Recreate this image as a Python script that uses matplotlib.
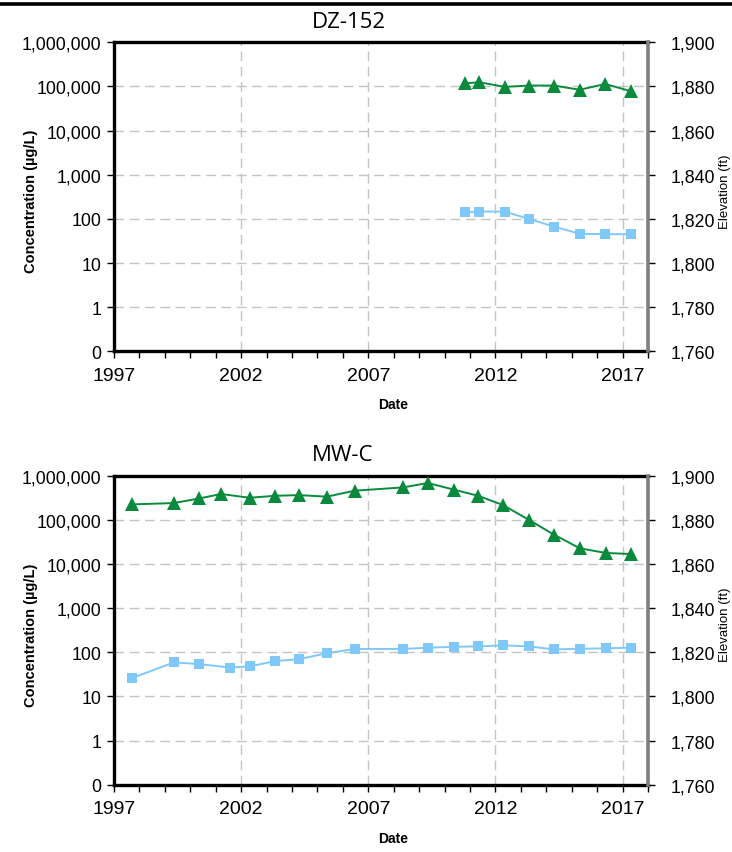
import numpy as np
import matplotlib
matplotlib.use("Agg")
import matplotlib.pyplot as plt
from matplotlib.ticker import FixedLocator, MultipleLocator, FuncFormatter
from matplotlib.lines import Line2D

# DZ-152
dz_years = [2010.79, 2011.36, 2012.37, 2013.33, 2014.30, 2015.31, 2016.32, 2017.34]
dz_elev = [1881.4, 1881.9, 1879.8, 1880.4, 1880.4, 1878.5, 1881.1, 1877.8]
dz_conc = [141, 146, 146, 99, 67, 46, 45, 45]

# MW-C
mw_elev_years = [1997.70, 1999.36, 2000.35, 2001.21, 2002.34, 2003.33, 2004.28,
                 2005.37, 2006.46, 2008.37, 2009.34, 2010.36, 2011.32, 2012.30,
                 2013.33, 2014.30, 2015.32, 2016.34, 2017.34]
mw_elev = [1887.0, 1887.6, 1889.7, 1891.7, 1890.0, 1890.9, 1891.2, 1890.5, 1893.2,
           1894.7, 1896.7, 1893.7, 1890.9, 1886.7, 1879.9, 1873.3, 1867.1, 1865.0,
           1864.5]
mw_conc_years = [1997.70, 1999.36, 2000.35, 2001.57, 2002.34, 2003.33, 2004.28,
                 2005.37, 2006.46, 2008.37, 2009.34, 2010.36, 2011.32, 2012.30,
                 2013.33, 2014.30, 2015.32, 2016.34, 2017.34]
mw_conc = [26, 59, 54, 45, 48, 63, 70, 95, 119,
           119, 127, 133, 136, 143, 136, 116, 120, 123, 127]

conc_ticks = [0.1, 1, 10, 100, 1000, 10000, 100000, 1000000]
conc_labels = ["0", "1", "10", "100", "1,000", "10,000", "100,000", "1,000,000"]
year_ticks = [1997, 2002, 2007, 2012, 2017]

GREEN = "#0a8a3c"
BLUE = "#80c8fa"
GRID = "#c4c4c4"

W, H = 732, 853
fig = plt.figure(figsize=(W / 100, H / 100), dpi=100)

# rule across the top
fig.add_artist(Line2D([0, 1], [1 - 4.5 / H, 1 - 4.5 / H], color="black", lw=2.6,
                      transform=fig.transFigure))


def px(x, y):
    return x / W, 1 - y / H


def make_panel(top_px, bottom_px, title, conc_x, conc_y, elev_x, elev_y):
    left, right = 114, 648
    ax = fig.add_axes([left / W, 1 - bottom_px / H, (right - left) / W,
                       (bottom_px - top_px) / H])
    ax.set_yscale("log")
    ax.set_ylim(0.1, 1000000)
    ax.set_xlim(1997, 2018)
    ax.yaxis.set_major_locator(FixedLocator(conc_ticks))
    ax.set_yticklabels(conc_labels, fontfamily="Liberation Sans", fontsize=12.8)
    ax.yaxis.set_minor_locator(FixedLocator([]))
    ax.xaxis.set_major_locator(FixedLocator(year_ticks))
    ax.xaxis.set_minor_locator(MultipleLocator(1))
    ax.set_xticklabels([str(y) for y in year_ticks], fontfamily="Liberation Sans",
                       fontsize=14)
    ax.tick_params(axis="x", which="major", length=5, width=1, pad=6)
    ax.tick_params(axis="x", which="minor", length=5, width=1)
    ax.tick_params(axis="y", which="major", length=5, width=1, pad=4)
    ax.grid(True, which="major", color=GRID, linestyle=(0, (7, 4)), linewidth=1)
    for side in ["left", "top", "bottom"]:
        ax.spines[side].set_linewidth(2.4)
        ax.spines[side].set_color("black")
    ax.spines["right"].set_visible(False)

    ax.plot(conc_x, conc_y, color=BLUE, marker="s", markersize=7.5, linewidth=1.4,
            markeredgewidth=0, zorder=3, clip_on=False)

    ax2 = ax.twinx()
    ax2.set_ylim(1760, 1900)
    ax2.yaxis.set_major_locator(MultipleLocator(20))
    ax2.yaxis.set_major_formatter(FuncFormatter(lambda v, p: f"{v:,.0f}"))
    ax2.tick_params(axis="y", length=5, width=1, pad=11, labelsize=12.8)
    for lab in ax2.get_yticklabels():
        lab.set_fontfamily("Liberation Sans")
    ax2.spines["right"].set_linewidth(2.6)
    ax2.spines["right"].set_color("#7f7f7f")
    for side in ["left", "top", "bottom"]:
        ax2.spines[side].set_visible(False)
    ax2.plot(elev_x, elev_y, color=GREEN, marker="^", markersize=9.5, linewidth=1.4,
             markeredgewidth=0, zorder=3, clip_on=False)

    mid = (top_px + bottom_px) / 2
    fig.text(*px(31, mid + 4), "Concentration (µg/L)", fontfamily="Liberation Sans",
             fontweight="bold", fontsize=10.5, rotation=90, ha="center", va="center")
    fig.text(*px(725, mid - 6), "Elevation (ft)", fontfamily="Liberation Sans",
             fontsize=9.5, rotation=90, ha="center", va="center")
    fig.text(*px(312, top_px - 21), title, fontfamily="Open Sans", fontsize=16,
             ha="left", va="center")
    fig.text(*px(393, bottom_px + 53), "Date", fontfamily="Liberation Sans",
             fontweight="bold", fontsize=10, ha="center", va="center")
    return ax, ax2


make_panel(43.3, 352.3, "DZ-152", dz_years, dz_conc, dz_years, dz_elev)
make_panel(476.7, 785.7, "MW-C", mw_conc_years, mw_conc, mw_elev_years, mw_elev)

fig.savefig("out.png", dpi=100)
